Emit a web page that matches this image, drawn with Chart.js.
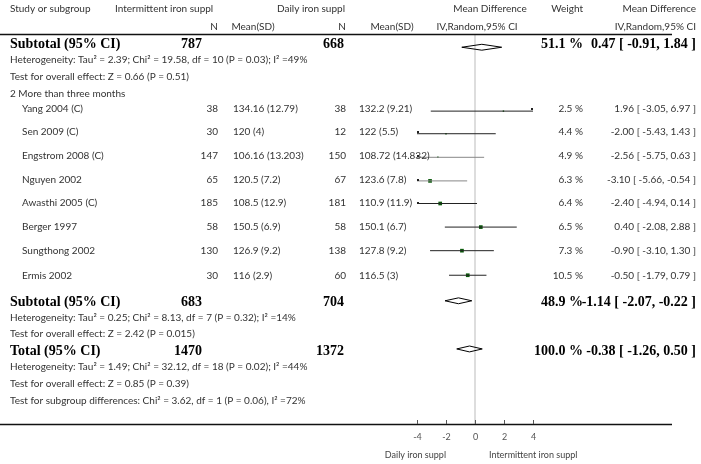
<!DOCTYPE html>
<html lang="en">
  <head>
    <meta charset="UTF-8" />
    <title>Forest plot</title>
    <script src="https://cdn.jsdelivr.net/npm/chart.js"></script>
    <style>
      body { margin: 0; background: #fff; }
    </style>
  </head>
  <body>
    <canvas id="forest" width="701" height="464"></canvas>
    <script>
      // study rows (subgroup 2)
      const studies = ['Yang 2004 (C)', 'Sen 2009 (C)', 'Engstrom 2008 (C)', 'Nguyen 2002', 'Awasthi 2005 (C)', 'Berger 1997', 'Sungthong 2002', 'Ermis 2002']
      const nInt = [38, 30, 147, 65, 185, 58, 130, 30]
      const sdInt = ['134.16 (12.79)', '120 (4)', '106.16 (13.203)', '120.5 (7.2)', '108.5 (12.9)', '150.5 (6.9)', '126.9 (9.2)', '116 (2.9)']
      const nDaily = [38, 12, 150, 67, 181, 58, 138, 60]
      const sdDaily = ['132.2 (9.21)', '122 (5.5)', '108.72 (14.832)', '123.6 (7.8)', '110.9 (11.9)', '150.1 (6.7)', '127.8 (9.2)', '116.5 (3)']
      const md = [1.96, -2.0, -2.56, -3.1, -2.4, 0.4, -0.9, -0.5]
      const lo = [-3.05, -5.43, -5.75, -5.66, -4.94, -2.08, -3.1, -1.79]
      const hi = [6.97, 1.43, 0.63, -0.54, 0.14, 2.88, 1.3, 0.79]
      const weight = [2.5, 4.4, 4.9, 6.3, 6.4, 6.5, 7.3, 10.5]

      // pooled rows
      const pooledLabels = ['Subtotal (95% CI)', 'Subtotal (95% CI)', 'Total (95% CI)']
      const pooledNInt = [787, 683, 1470]
      const pooledNDaily = [668, 704, 1372]
      const pooledMd = [0.47, -1.14, -0.38]
      const pooledLo = [-0.91, -2.07, -1.26]
      const pooledHi = [1.84, -0.22, 0.5]
      const pooledWeight = ['51.1 %', '48.9 %', '100.0 %']

      const xTicks = [-4, -2, 0, 2, 4]

      // layout: vertical position of each row (canvas px)
      const studyY = [109, 132, 156, 180, 203, 227, 251, 276]
      const pooledY = [44, 302, 351]

      const datasets = []
      studies.forEach((s, i) => {
        datasets.push({
          type: 'line',
          data: [{ x: lo[i], y: studyY[i] }, { x: hi[i], y: studyY[i] }],
          borderColor: i === 2 || i === 3 ? '#888' : '#222',
          borderWidth: 1,
          pointRadius: 0
        })
      })
      datasets.push({
        type: 'scatter',
        data: md.map((v, i) => ({ x: v, y: studyY[i] })),
        pointStyle: 'rect',
        pointRadius: weight.map(w => (w > 6 ? 2.6 : 1)),
        backgroundColor: '#0a5a0a',
        borderColor: '#0a5a0a',
        borderWidth: 0
      })
      pooledMd.forEach((m, i) => {
        const y = pooledY[i]
        datasets.push({
          type: 'line',
          data: [
            { x: pooledLo[i], y: y },
            { x: m, y: y - 3 },
            { x: pooledHi[i], y: y },
            { x: m, y: y + 3 },
            { x: pooledLo[i], y: y }
          ],
          borderColor: '#000',
          backgroundColor: '#000',
          borderWidth: 1,
          fill: true,
          pointRadius: 0,
          tension: 0
        })
      })

      const serif = 'bold 14px "Liberation Serif"'
      const sans = '10px Lato'

      const textPlugin = {
        id: 'forestText',
        beforeDatasetsDraw(chart) {
          const ctx = chart.ctx
          const xs = chart.scales.x
          ctx.save()
          // zero line
          ctx.strokeStyle = '#bbb'
          ctx.lineWidth = 1
          ctx.beginPath()
          ctx.moveTo(xs.getPixelForValue(0), 35)
          ctx.lineTo(xs.getPixelForValue(0), 424)
          ctx.stroke()
          ctx.restore()
        },
        afterDatasetsDraw(chart) {
          const ctx = chart.ctx
          const xs = chart.scales.x
          ctx.save()
          ctx.textBaseline = 'middle'
          const t = (s, x, y, align, font, color) => {
            ctx.font = font || sans
            ctx.fillStyle = color || '#333'
            ctx.textAlign = align || 'left'
            ctx.fillText(s, x, y)
          }
          // header
          t('Study or subgroup', 10, 9)
          t('Intermittent iron suppl', 115, 9)
          t('Daily iron suppl', 345, 9, 'right')
          t('Mean Difference', 490, 9, 'center')
          t('Weight', 583, 9, 'right')
          t('Mean Difference', 696, 9, 'right')
          t('N', 218, 27, 'right')
          t('Mean(SD)', 253, 27, 'center')
          t('N', 346, 27, 'right')
          t('Mean(SD)', 392, 27, 'center')
          t('IV,Random,95% CI', 477, 27, 'center')
          t('IV,Random,95% CI', 696, 27, 'right')
          ctx.strokeStyle = '#111'
          ctx.lineWidth = 1.5
          ctx.beginPath()
          ctx.moveTo(0, 34.5)
          ctx.lineTo(672, 34.5)
          ctx.moveTo(0, 424.5)
          ctx.lineTo(672, 424.5)
          ctx.stroke()

          // studies
          studies.forEach((s, i) => {
            const y = studyY[i]
            t(s, 22, y)
            t(String(nInt[i]), 218, y, 'right')
            t(sdInt[i], 233, y)
            t(String(nDaily[i]), 346, y, 'right')
            t(sdDaily[i], 359, y)
            t(weight[i].toFixed(1) + ' %', 583, y, 'right')
            t(md[i].toFixed(2) + ' [ ' + lo[i].toFixed(2) + ', ' + hi[i].toFixed(2) + ' ]', 696, y, 'right')
            // arrow ends for clipped lines
            ctx.fillStyle = '#222'
            if (lo[i] < xs.min) ctx.fillRect(xs.left, y - 1, 2, 2)
            if (hi[i] > xs.max) ctx.fillRect(xs.right - 2, y - 1, 2, 2)
          })

          // pooled
          pooledLabels.forEach((s, i) => {
            const y = pooledY[i]
            t(s, 10, y, 'left', serif, '#000')
            t(String(pooledNInt[i]), 202, y, 'right', serif, '#000')
            t(String(pooledNDaily[i]), 344, y, 'right', serif, '#000')
            t(pooledWeight[i], 583, y, 'right', serif, '#000')
            const f = v => v.toFixed(2)
            t(f(pooledMd[i]) + ' [ ' + f(pooledLo[i]) + ', ' + f(pooledHi[i]) + ' ]', 696, y, 'right', serif, '#000')
          })

          t('Heterogeneity: Tau² = 2.39; Chi² = 19.58, df = 10 (P = 0.03); I² =49%', 10, 60)
          t('Test for overall effect: Z = 0.66 (P = 0.51)', 10, 77)
          t('2 More than three months', 10, 94)
          t('Heterogeneity: Tau² = 0.25; Chi² = 8.13, df = 7 (P = 0.32); I² =14%', 10, 318)
          t('Test for overall effect: Z = 2.42 (P = 0.015)', 10, 334)
          t('Heterogeneity: Tau² = 1.49; Chi² = 32.12, df = 18 (P = 0.02); I² =44%', 10, 367)
          t('Test for overall effect: Z = 0.85 (P = 0.39)', 10, 384)
          t('Test for subgroup differences: Chi² = 3.62, df = 1 (P = 0.06), I² =72%', 10, 401)

          // x axis ticks
          ctx.strokeStyle = '#555'
          ctx.lineWidth = 1
          xTicks.forEach(v => {
            const px = Math.round(xs.getPixelForValue(v)) + 0.5
            ctx.beginPath()
            ctx.moveTo(px, 420)
            ctx.lineTo(px, 424)
            ctx.stroke()
            t(String(v), px, 437, 'center', '9px Lato', '#555')
          })
          t('Daily iron suppl', 446, 455, 'right', '9px Lato', '#444')
          t('Intermittent iron suppl', 489, 455, 'left', '9px Lato', '#444')
          ctx.restore()
        }
      }

      new Chart(document.getElementById('forest'), {
        data: { datasets: datasets },
        plugins: [textPlugin],
        options: {
          responsive: false,
          animation: false,
          devicePixelRatio: 1,
          layout: { padding: { left: 417, right: 168, top: 0, bottom: 0 } },
          plugins: { legend: { display: false }, tooltip: { enabled: false } },
          scales: {
            x: { type: 'linear', min: -4, max: 4, display: false },
            y: { type: 'linear', min: 0, max: 464, reverse: true, display: false }
          }
        }
      })
    </script>
  </body>
</html>
